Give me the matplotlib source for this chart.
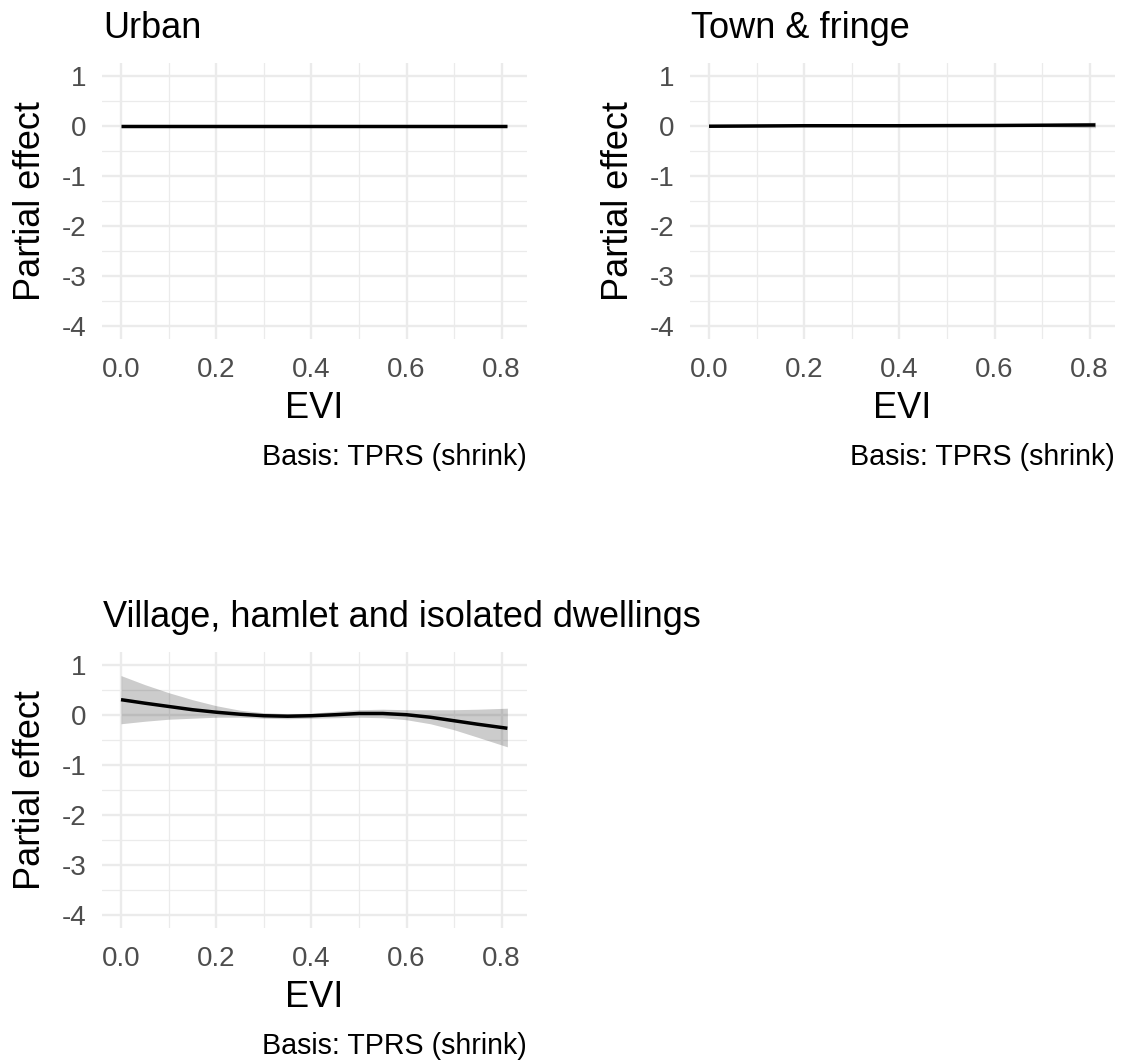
import numpy as np
import matplotlib.pyplot as plt

plt.rcParams['font.family'] = ['Liberation Sans', 'DejaVu Sans']

# partial effect of EVI by rural-urban class (fit and 95% interval)
urban_x = [0.0, 0.2, 0.4, 0.6, 0.812]
urban_fit = [0.0, 0.0, 0.0, 0.0, 0.0]
urban_lo = [-0.005, -0.003, -0.003, -0.003, -0.006]
urban_hi = [0.005, 0.003, 0.003, 0.003, 0.006]

town_x = [0.0, 0.2, 0.4, 0.6, 0.7, 0.812]
town_fit = [-0.01, 0.0, 0.0, 0.005, 0.01, 0.015]
town_lo = [-0.035, -0.012, -0.01, -0.012, -0.02, -0.04]
town_hi = [0.015, 0.012, 0.01, 0.02, 0.04, 0.07]

village_x = [0.0, 0.05, 0.1, 0.15, 0.2, 0.25, 0.3, 0.35, 0.4, 0.45, 0.5,
             0.55, 0.6, 0.65, 0.7, 0.75, 0.812]
village_fit = [0.30, 0.23, 0.165, 0.10, 0.05, 0.01, -0.02, -0.03, -0.02, 0.00,
               0.025, 0.025, 0.0, -0.05, -0.12, -0.19, -0.27]
village_lo = [-0.18, -0.13, -0.09, -0.07, -0.05, -0.05, -0.07, -0.08, -0.07,
              -0.06, -0.05, -0.06, -0.10, -0.18, -0.30, -0.45, -0.64]
village_hi = [0.78, 0.60, 0.44, 0.30, 0.18, 0.09, 0.04, 0.02, 0.03, 0.07,
              0.10, 0.11, 0.10, 0.10, 0.10, 0.11, 0.13]

panels = [
    ("Urban", urban_x, urban_fit, urban_lo, urban_hi),
    ("Town & fringe", town_x, town_fit, town_lo, town_hi),
    ("Village, hamlet and isolated dwellings", village_x, village_fit, village_lo, village_hi),
]

W, H = 1121, 1062
fig = plt.figure(figsize=(W / 100, H / 100), dpi=100)

# axes boxes in pixels: left, top
boxes = [(101.7, 63), (689.7, 63), (101.7, 652)]
aw, ah = 425, 276

grid_col = '#EBEBEB'
for (title, x, fit, lo, hi), (left, top) in zip(panels, boxes):
    ax = fig.add_axes([left / W, 1 - (top + ah) / H, aw / W, ah / H])
    ax.fill_between(x, lo, hi, color='black', alpha=0.2, linewidth=0)
    ax.plot(x, fit, color='black', linewidth=2.5, solid_capstyle='butt')

    ax.set_xlim(-0.0406, 0.8526)
    ax.set_ylim(-4.25, 1.25)
    ax.set_xticks(np.arange(0, 0.81, 0.2))
    ax.set_xticks([0.1, 0.3, 0.5, 0.7], minor=True)
    ax.set_yticks(np.arange(-4, 1.1, 1))
    ax.set_yticks(np.arange(-3.5, 1.0, 1), minor=True)
    ax.set_xticklabels(['0.0', '0.2', '0.4', '0.6', '0.8'])
    ax.set_yticklabels(['-4', '-3', '-2', '-1', '0', '1'])

    ax.grid(which='major', color=grid_col, linewidth=1.7)
    ax.grid(which='minor', color=grid_col, linewidth=0.9)
    ax.set_axisbelow(True)
    for s in ax.spines.values():
        s.set_visible(False)
    ax.tick_params(which='both', length=0)
    ax.tick_params(axis='x', pad=13, labelsize=20, labelcolor='#4D4D4D')
    ax.tick_params(axis='y', pad=11, labelsize=20, labelcolor='#4D4D4D')

    ax.set_title(title, loc='left', fontsize=26, pad=18, x=0.003)
    ax.set_xlabel('EVI', fontsize=26, labelpad=6)
    ax.set_ylabel('Partial effect', fontsize=26, labelpad=10)
    ax.annotate('Basis: TPRS (shrink)', xy=(1, 0), xycoords='axes fraction',
                xytext=(0, -91), textcoords='offset points',
                ha='right', va='baseline', fontsize=20.6)

fig.savefig('out.png', dpi=100, facecolor='white')
